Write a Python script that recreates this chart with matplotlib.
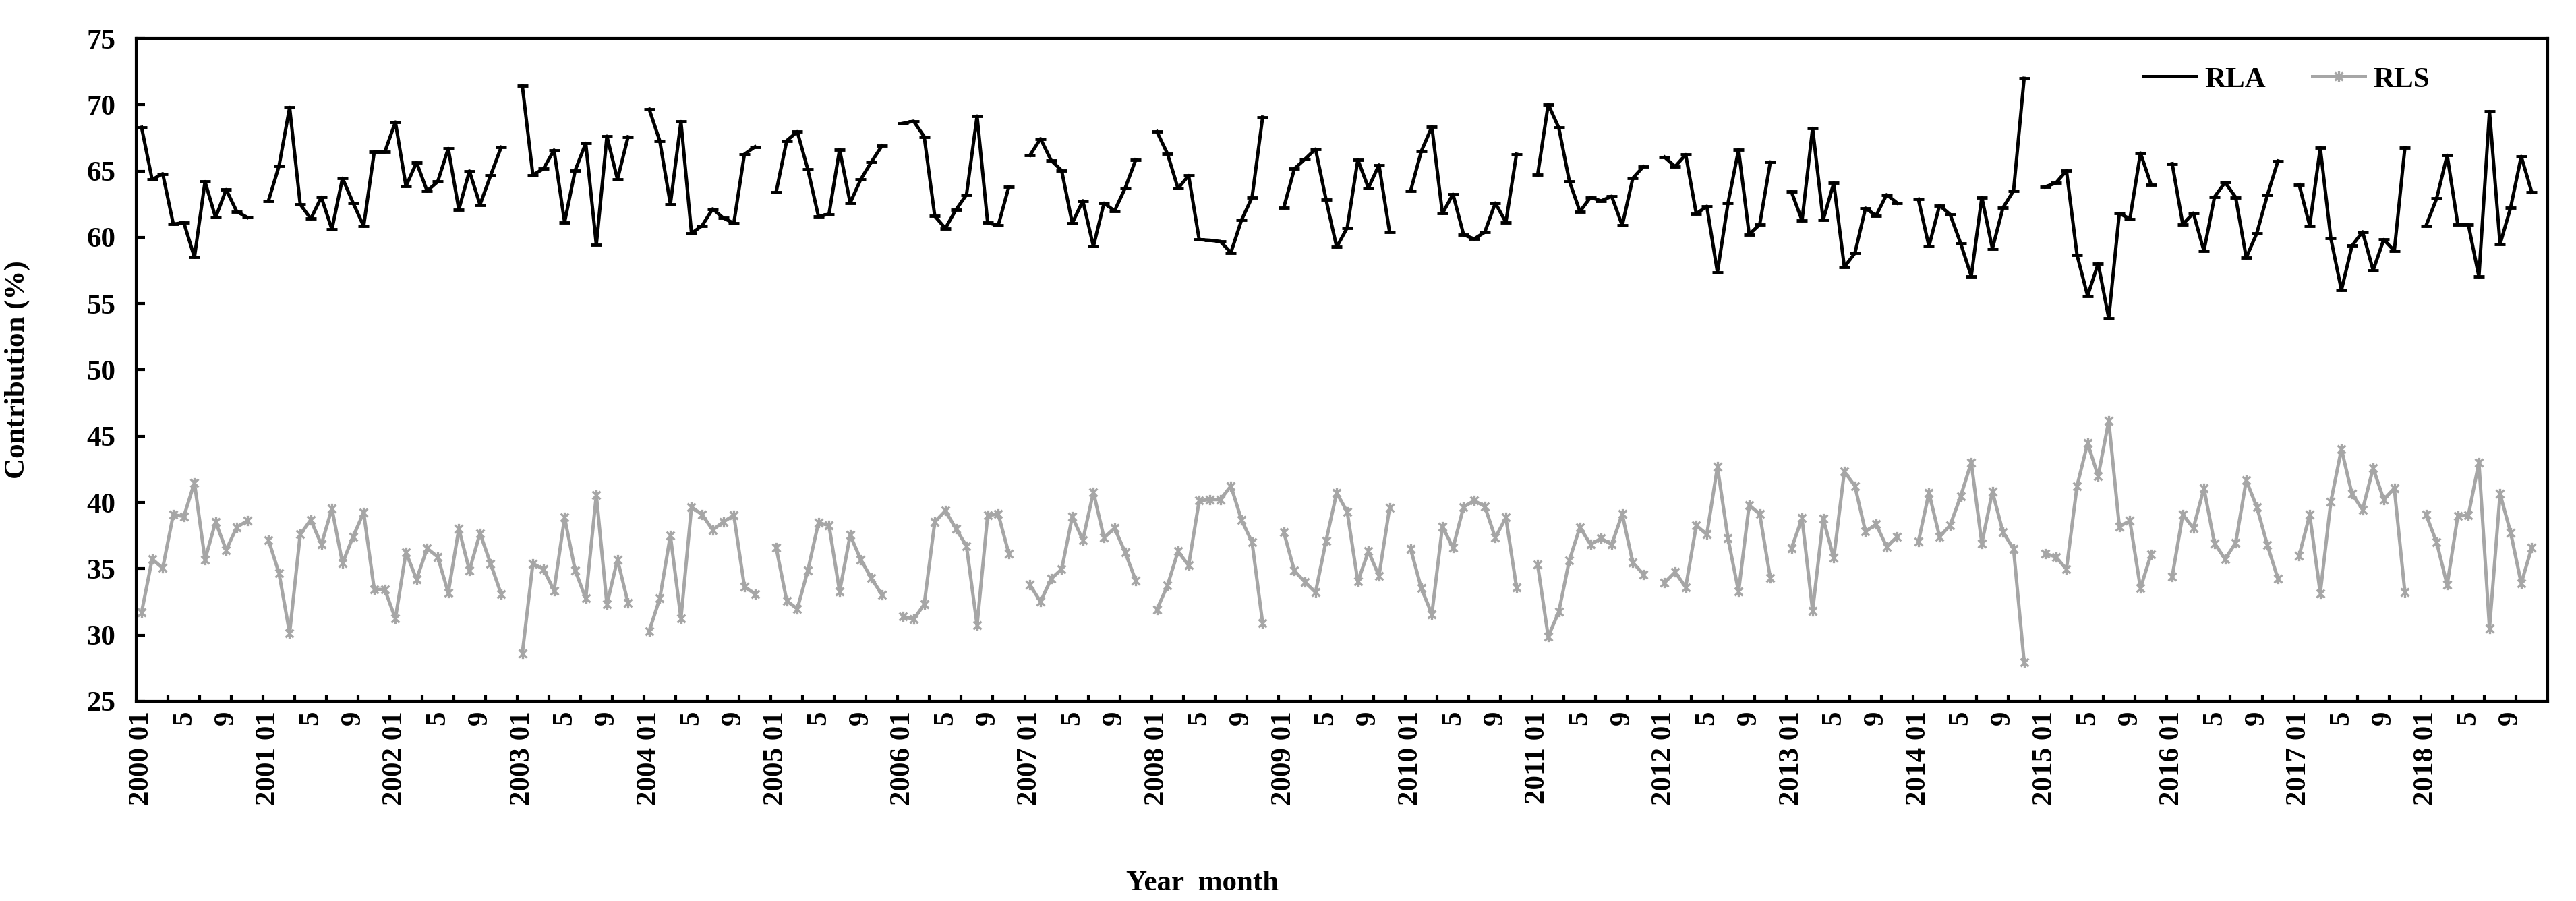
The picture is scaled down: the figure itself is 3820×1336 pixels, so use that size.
import numpy as np
import matplotlib.pyplot as plt
from matplotlib.path import Path

plt.rcParams['font.family'] = ['Liberation Serif', 'DejaVu Serif']
plt.rcParams['font.weight'] = 'bold'
plt.rcParams['axes.labelweight'] = 'bold'

nan = np.nan
years = list(range(2000, 2019))

# monthly contribution (%), Jan..Dec per row; December mostly empty in the source
rla = [
    68.3, 64.35, 64.8, 61.0, 61.1, 58.5, 64.2, 61.5, 63.6, 61.95, 61.5, nan,       # 2000
    62.76, 65.39, 69.8, 62.5, 61.4, 63.03, 60.6, 64.46, 62.6, 60.85, 66.44, 66.44,  # 2001
    68.7, 63.86, 65.64, 63.5, 64.2, 66.7, 62.1, 65.0, 62.46, 64.66, 66.8, nan,     # 2002
    71.44, 64.7, 65.17, 66.58, 61.14, 65.05, 67.1, 59.44, 67.63, 64.37, 67.58, nan,  # 2003
    69.66, 67.27, 62.5, 68.73, 60.3, 60.88, 62.15, 61.46, 61.07, 66.27, 66.83, nan,  # 2004
    63.42, 67.29, 67.97, 65.12, 61.58, 61.75, 66.63, 62.6, 64.37, 65.68, 66.9, nan,  # 2005
    68.6, 68.76, 67.6, 61.6, 60.68, 62.08, 63.22, 69.15, 61.1, 60.9, 63.81, nan,    # 2006
    66.19, 67.44, 65.81, 65.03, 61.07, 62.76, 59.32, 62.58, 62.0, 63.71, 65.85, nan,  # 2007
    67.97, 66.31, 63.69, 64.66, 59.83, 59.78, 59.69, 58.85, 61.3, 63.02, 69.07, nan,  # 2008
    62.25, 65.17, 65.9, 66.66, 62.83, 59.27, 60.73, 65.85, 63.73, 65.46, 60.42, nan,  # 2009
    63.53, 66.49, 68.34, 61.81, 63.25, 60.2, 59.88, 60.39, 62.59, 61.14, 66.27, nan,  # 2010
    64.71, 70.03, 68.27, 64.24, 61.95, 63.02, 62.75, 63.1, 60.9, 64.46, 65.34, nan,  # 2011
    66.05, 65.34, 66.24, 61.78, 62.34, 57.37, 62.58, 66.61, 60.22, 60.97, 65.68, nan,  # 2012
    63.44, 61.27, 68.22, 61.31, 64.1, 57.76, 58.81, 62.2, 61.64, 63.22, 62.59, nan,  # 2013
    62.88, 59.32, 62.41, 61.73, 59.54, 57.07, 63.02, 59.15, 62.24, 63.51, 72.0, nan,  # 2014
    63.81, 64.1, 65.03, 58.68, 55.59, 58.02, 53.9, 61.81, 61.39, 66.36, 63.98, nan,  # 2015
    65.56, 60.98, 61.83, 58.98, 63.05, 64.15, 63.02, 58.47, 60.31, 63.19, 65.76, nan,  # 2016
    63.98, 60.88, 66.75, 59.92, 56.02, 59.36, 60.42, 57.51, 59.83, 58.98, 66.75, nan,  # 2017
    60.88, 62.93, 66.19, 60.98, 60.97, 57.03, 69.49, 59.49, 62.25, 66.1, 63.39, nan,  # 2018
]

rls = [
    31.7, 35.73, 35.05, 39.08, 38.95, 41.49, 35.69, 38.53, 36.41, 38.14, 38.61, nan,  # 2000
    37.17, 34.66, 30.14, 37.59, 38.69, 36.83, 39.54, 35.42, 37.42, 39.24, 33.44, 33.44,  # 2001
    31.24, 36.24, 34.2, 36.54, 35.9, 33.19, 38.02, 34.88, 37.68, 35.39, 33.1, nan,   # 2002
    28.6, 35.39, 34.97, 33.36, 38.86, 34.88, 32.76, 40.56, 32.31, 35.69, 32.42, nan,  # 2003
    30.3, 32.76, 37.51, 31.24, 39.66, 39.08, 37.93, 38.53, 39.03, 33.66, 33.1, nan,   # 2004
    36.61, 32.59, 31.97, 34.88, 38.47, 38.27, 33.27, 37.54, 35.69, 34.29, 33.05, nan,  # 2005
    31.41, 31.19, 32.31, 38.53, 39.37, 38.02, 36.71, 30.73, 39.03, 39.12, 36.15, nan,  # 2006
    33.78, 32.51, 34.24, 34.97, 38.92, 37.17, 40.78, 37.34, 38.07, 36.24, 34.12, nan,  # 2007
    31.92, 33.73, 36.32, 35.25, 40.14, 40.22, 40.22, 41.24, 38.69, 37.0, 30.9, nan,   # 2008
    37.76, 34.85, 34.0, 33.22, 37.12, 40.73, 39.29, 34.03, 36.32, 34.46, 39.58, nan,  # 2009
    36.49, 33.53, 31.58, 38.19, 36.58, 39.66, 40.14, 39.71, 37.34, 38.86, 33.61, nan,  # 2010
    35.31, 29.88, 31.75, 35.64, 38.14, 36.83, 37.29, 36.83, 39.12, 35.47, 34.58, nan,  # 2011
    33.95, 34.75, 33.61, 38.27, 37.59, 42.68, 37.29, 33.27, 39.8, 39.12, 34.29, nan,  # 2012
    36.54, 38.81, 31.83, 38.78, 35.81, 42.34, 41.24, 37.8, 38.36, 36.66, 37.42, nan,  # 2013
    37.03, 40.73, 37.42, 38.27, 40.47, 43.02, 36.92, 40.81, 37.76, 36.49, 27.97, nan,  # 2014
    36.15, 35.9, 34.97, 41.24, 44.46, 42.0, 46.15, 38.19, 38.61, 33.53, 36.1, nan,   # 2015
    34.41, 39.08, 38.07, 41.07, 36.92, 35.73, 36.95, 41.66, 39.66, 36.78, 34.24, nan,  # 2016
    35.98, 39.08, 33.15, 40.05, 44.03, 40.64, 39.46, 42.59, 40.22, 41.07, 33.22, nan,  # 2017
    39.08, 37.0, 33.78, 38.98, 39.03, 43.02, 30.51, 40.64, 37.73, 33.9, 36.61, nan,   # 2018
]

# tick labels every 4 months: "YYYY 01", "5", "9"
tick_labels = []
for y in years:
    tick_labels += [f'{y} 01', '5', '9']

# excel-like "star" marker: an x with a vertical bar
star = Path([(-1, -1), (1, 1), (-1, 1), (1, -1), (0, -1.3), (0, 1.3)],
            [Path.MOVETO, Path.LINETO, Path.MOVETO, Path.LINETO, Path.MOVETO, Path.LINETO])

fig = plt.figure(figsize=(38.2, 13.36), dpi=100)
ax = fig.add_axes([0.0529, 0.2216, 0.9361, 0.7357])

x = np.arange(len(rla))
ax.plot(x, rla, color='black', lw=3.6, marker='_', ms=11, mew=3.5, label='RLA')
ax.plot(x, rls, color='#a6a6a6', lw=3.6, marker=star, ms=11, mew=2.4, label='RLS')

ax.set_xlim(-0.5, len(x) - 0.5)
ax.set_ylim(25, 75)
ax.set_yticks(np.arange(25, 76, 5))

ax.set_xticks(np.arange(0, len(x), 4))
ax.set_xticklabels(tick_labels, rotation=90)
ax.set_xticks(np.arange(2.5, len(x) - 1, 3), minor=True)

ax.tick_params(axis='y', direction='in', length=9.5, width=3, labelsize=31, pad=22)
ax.tick_params(axis='x', which='major', length=0, labelsize=31, pad=10)
ax.tick_params(axis='x', which='minor', direction='in', length=7.5, width=3)

for s in ax.spines.values():
    s.set_linewidth(3)

ax.set_ylabel('Contribution (%)', fontsize=31, fontweight='bold')
ax.yaxis.set_label_coords(-0.044, 0.5)
ax.set_xlabel('Year  month', fontsize=31, fontweight='bold')
ax.xaxis.set_label_coords(0.442, -0.255)

ax.legend(loc='center right', bbox_to_anchor=(0.962, 0.938), ncol=2, frameon=False,
          fontsize=31, handlelength=1.8, handletextpad=0.3, columnspacing=1.6)

fig.savefig('out.png', dpi=100)
